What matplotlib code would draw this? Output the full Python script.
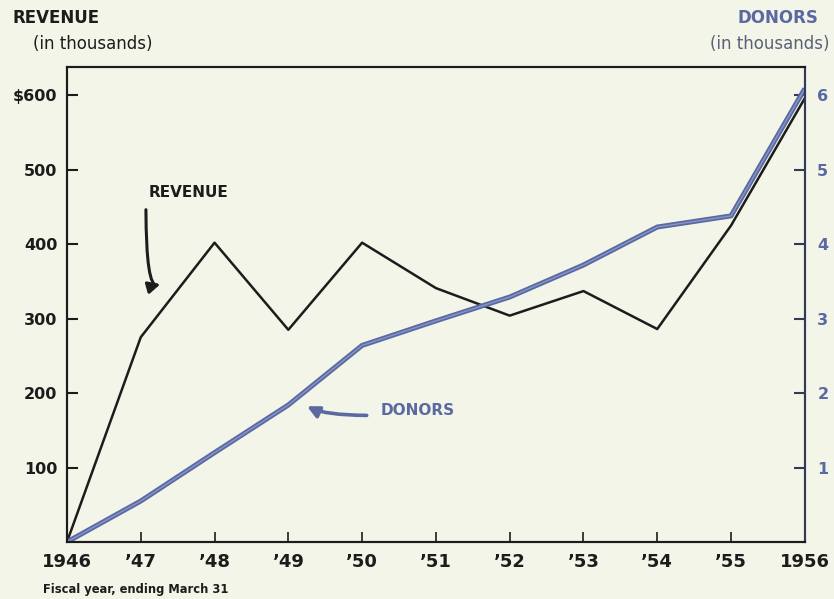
import matplotlib.pyplot as plt

years = [1946, 1947, 1948, 1949, 1950, 1951, 1952, 1953, 1954, 1955, 1956]
year_labels = ["1946", "\u201947", "\u201948", "\u201949", "\u201950", "\u201951",
               "\u201952", "\u201953", "\u201954", "\u201955", "1956"]
revenue = [0, 275, 402, 285, 402, 341, 304, 337, 286, 425, 596]   # $ thousands
donors = [0, 0.55, 1.2, 1.84, 2.64, 2.97, 3.29, 3.72, 4.23, 4.38, 6.09]  # thousands

rev_ticks = [100, 200, 300, 400, 500, 600]
rev_labels = ["100", "200", "300", "400", "500", "$600"]
don_ticks = [1, 2, 3, 4, 5, 6]

bg = "#f4f5e9"
ink = "#1c1c1c"
blue = "#5a69a2"

plt.rcParams['font.family'] = ['DejaVu Sans']

fig = plt.figure(figsize=(8.34, 5.99), dpi=100, facecolor=bg)
ax = fig.add_axes([0.0803, 0.0952, 0.8847, 0.793])
ax.set_facecolor(bg)
ax2 = ax.twinx()

ax.plot(years, revenue, color=ink, lw=1.8, zorder=3)
ax2.plot(years, donors, color=blue, lw=3.6, solid_capstyle="butt", zorder=2)
ax2.plot(years, donors, color="#8796c8", lw=1.0, zorder=2)

ax.set_xlim(1946, 1956)
ax.set_ylim(0, 638)
ax2.set_ylim(0, 6.38)

ax.set_xticks(years)
ax.set_xticklabels(year_labels, fontsize=13, fontweight="bold", color=ink)
ax.set_yticks(rev_ticks)
ax.set_yticklabels(rev_labels, fontsize=11.5, fontweight="bold", color=ink)
ax2.set_yticks(don_ticks)
ax2.set_yticklabels([str(t) for t in don_ticks], fontsize=11.5, fontweight="bold", color=blue)

ax.tick_params(axis="x", direction="in", length=7, width=1.2, color=ink, pad=8)
ax.tick_params(axis="y", direction="in", length=8, width=1.5, color=ink, pad=7)
ax2.tick_params(axis="y", direction="in", length=8, width=1.5, color="#333a55", pad=9)

for a in (ax, ax2):
    for side in a.spines.values():
        side.set_color(ink)
        side.set_linewidth(1.5)
ax2.spines["right"].set_color("#333a55")

# axis titles
fig.text(12 / 834, 1 - 18 / 599, "REVENUE", fontsize=12, fontweight="bold",
         color=ink, va="center", ha="left")
fig.text(33 / 834, 1 - 44 / 599, "(in thousands)", fontsize=12, color=ink,
         va="center", ha="left")
fig.text(818 / 834, 1 - 18 / 599, "DONORS", fontsize=12, fontweight="bold",
         color=blue, va="center", ha="right")
fig.text(830 / 834, 1 - 44 / 599, "(in thousands)", fontsize=12, color="#5a6078",
         va="center", ha="right")
fig.text(43 / 834, 1 - 590 / 599, "Fiscal year, ending March 31", fontsize=8.3,
         fontweight="bold", color=ink, va="center", ha="left")

# line labels with arrows
ax.text(1947.65, 470, "REVENUE", fontsize=11, fontweight="bold", color=ink,
        ha="center", va="center")
ax.annotate("", xy=(1947.3, 348), xytext=(1947.07, 450),
            arrowprops=dict(arrowstyle="-|>,head_length=0.7,head_width=0.35",
                            color=ink, lw=2.2,
                            connectionstyle="angle3,angleA=90,angleB=35"))
ax.text(1950.25, 177, "DONORS", fontsize=11, fontweight="bold", color=blue,
        ha="left", va="center")
ax.annotate("", xy=(1949.22, 184), xytext=(1950.1, 170),
            arrowprops=dict(arrowstyle="-|>,head_length=0.7,head_width=0.35",
                            color=blue, lw=2.6,
                            connectionstyle="angle3,angleA=0,angleB=-30"))

fig.savefig("out.png", dpi=100, facecolor=bg)
